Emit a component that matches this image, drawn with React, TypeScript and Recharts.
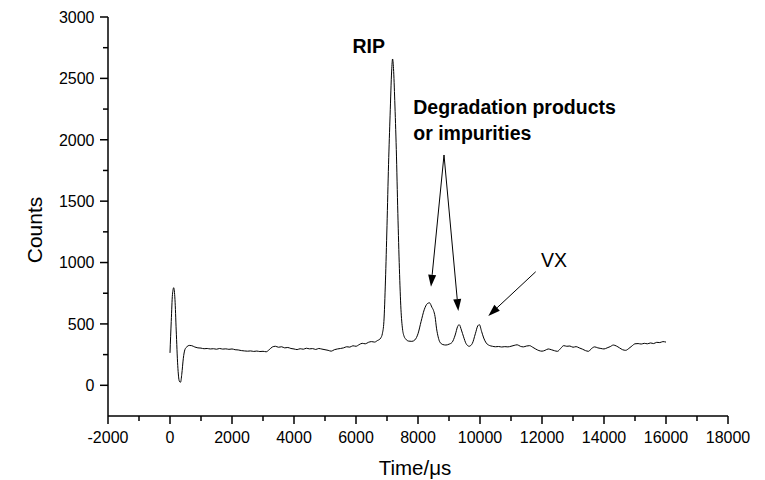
import { LineChart, Line, XAxis, YAxis, ReferenceLine, ReferenceDot, Label } from "recharts";

// drift time (µs) and detector counts
const timeUs = [
  0, 40, 80, 120, 160, 200, 250, 300, 340, 380, 430, 480, 550, 620, 700, 800, 900, 1000,
  1100, 1200, 1300, 1400, 1500, 1600, 1700, 1800, 1900, 2000, 2100, 2200, 2300, 2400, 2500,
  2600, 2700, 2800, 2900, 3000, 3100, 3200, 3300, 3400, 3500, 3600, 3700, 3800, 3900, 4000,
  4100, 4200, 4300, 4400, 4500, 4600, 4700, 4800, 4900, 5000, 5100, 5200, 5300, 5400, 5500,
  5600, 5700, 5800, 5900, 6000, 6100, 6200, 6300, 6400, 6500, 6600, 6700, 6750, 6800, 6850,
  6900, 6950, 7000, 7050, 7100, 7150, 7180, 7210, 7250, 7300, 7350, 7400, 7450, 7500, 7550,
  7600, 7700, 7800, 7900, 8000, 8100, 8200, 8300, 8370, 8450, 8500, 8550, 8600, 8650, 8700,
  8800, 8900, 9000, 9100, 9200, 9280, 9330, 9400, 9470, 9550, 9650, 9750, 9850, 9930, 9980,
  10050, 10120, 10200, 10300, 10400, 10500, 10600, 10700, 10800, 10900, 11000, 11100, 11200,
  11300, 11400, 11500, 11600, 11700, 11800, 11900, 12000, 12100, 12200, 12300, 12400, 12500,
  12600, 12700, 12800, 12900, 13000, 13100, 13200, 13300, 13400, 13500, 13600, 13700, 13800,
  13900, 14000, 14100, 14200, 14300, 14400, 14500, 14600, 14700, 14800, 14900, 15000, 15100,
  15200, 15300, 15400, 15500, 15600, 15700, 15800, 15900, 16000,
];
const counts = [
  264, 520, 740, 795, 700, 450, 160, 35, 25, 90, 220, 290, 315, 325, 323, 312, 305, 303,
  298, 300, 296, 298, 294, 300, 295, 297, 293, 296, 290, 288, 283, 280, 278,
  280, 276, 279, 275, 277, 273, 290, 312, 318, 310, 314, 305, 308, 300, 296,
  291, 298, 294, 302, 297, 299, 292, 300, 295, 290, 285, 278, 290, 296, 300,
  305, 314, 311, 322, 318, 331, 342, 338, 350, 356, 352, 366, 372, 386, 420,
  520, 850, 1300, 1800, 2200, 2560, 2658, 2580, 2320, 1920, 1400, 950, 620, 460, 400,
  378, 360, 358, 370, 420, 520, 615, 665, 672, 635, 610, 560, 460, 395, 355,
  332, 328, 335, 350, 410, 480, 494, 450, 395, 340, 318, 340, 420, 485, 494,
  440, 385, 345, 325, 318, 314, 316, 312, 315, 313, 318, 325, 330,
  318, 313, 320, 323, 310, 295, 283, 278, 285, 296, 290, 282, 277,
  300, 323, 318, 320, 310, 315, 305, 295, 283, 277, 300, 313, 305,
  300, 296, 305, 315, 328, 320, 305, 290, 285, 300, 320, 338, 340,
  336, 342, 338, 345, 340, 350, 348, 356, 352,
];

const xTicks = [
  -2000, -1000, 0, 1000, 2000, 3000, 4000, 5000, 6000, 7000, 8000, 9000, 10000, 11000, 12000,
  13000, 14000, 15000, 16000, 17000, 18000,
];
const yTicks = [0, 250, 500, 750, 1000, 1250, 1500, 1750, 2000, 2250, 2500, 2750, 3000];

// annotation anchors in data units
const ripLabel = { x: 5887, y: 2704 };
const degLabel = { x: 7848, y: 2210 };
const vxLabel = { x: 11968, y: 966 };
const degApex = { x: 8839, y: 1876 };
const degTips = [
  { x: 8419, y: 803 },
  { x: 9300, y: 605 },
];
const vxArrow = [
  { x: 11797, y: 925 },
  { x: 10268, y: 565 },
];

const rows = timeUs.map((t, i) => ({ t, c: counts[i] }));

const FONT = '"Liberation Sans", Arial, sans-serif';

function XTick(props: any) {
  const { x, y, payload } = props;
  const major = payload.value % 2000 === 0;
  return (
    <g>
      <line x1={x} y1={y} x2={x} y2={y + (major ? 8 : 5)} stroke="#000" strokeWidth={1.5} />
      {major && (
        <text x={x} y={y + 27} textAnchor="middle" fontSize={16} fontFamily={FONT} fill="#000">
          {payload.value}
        </text>
      )}
    </g>
  );
}

function YTick(props: any) {
  const { x, y, payload } = props;
  const major = payload.value % 500 === 0;
  return (
    <g>
      <line x1={x} y1={y} x2={x - (major ? 8 : 5)} y2={y} stroke="#000" strokeWidth={1.5} />
      {major && (
        <text x={x - 13.5} y={y} dy="0.36em" textAnchor="end" fontSize={16} fontFamily={FONT} fill="#000">
          {payload.value}
        </text>
      )}
    </g>
  );
}

function Arrow(p: any) {
  const { x1, y1, x2, y2 } = p;
  const dx = x2 - x1;
  const dy = y2 - y1;
  const len = Math.hypot(dx, dy) || 1;
  const ux = dx / len;
  const uy = dy / len;
  const hl = 12;
  const hw = 4;
  const bx = x2 - ux * hl;
  const by = y2 - uy * hl;
  const pts = `${x2},${y2} ${bx - uy * hw},${by + ux * hw} ${bx + uy * hw},${by - ux * hw}`;
  return (
    <g>
      <line x1={x1} y1={y1} x2={bx} y2={by} stroke="#000" strokeWidth={1} />
      <polygon points={pts} fill="#000" />
    </g>
  );
}

export default function App() {
  return (
    <div style={{ position: "absolute", left: 0, top: 0, background: "#fff" }}>
      <LineChart
        width={765}
        height={480}
        data={rows}
        margin={{ top: 17, right: 37, bottom: 24, left: 48 }}
      >
        <XAxis
          type="number"
          dataKey="t"
          domain={[-2000, 18000]}
          ticks={xTicks}
          interval={0}
          tickSize={0}
          tickMargin={0}
          tickLine={false}
          tick={<XTick />}
          axisLine={{ stroke: "#000", strokeWidth: 1.5 }}
          height={40}
        >
          <Label
            content={({ viewBox }: any) => (
              <text
                x={viewBox.x + viewBox.width / 2 - 3}
                y={viewBox.y + 59}
                textAnchor="middle"
                fontSize={20.5}
                fontFamily={FONT}
                fill="#000"
              >
                Time/μs
              </text>
            )}
          />
        </XAxis>
        <YAxis
          type="number"
          domain={[-250, 3000]}
          ticks={yTicks}
          interval={0}
          tickSize={0}
          tickMargin={0}
          tickLine={false}
          tick={<YTick />}
          axisLine={{ stroke: "#000", strokeWidth: 1.5 }}
          width={60}
        >
          <Label
            content={({ viewBox }: any) => {
              const lx = viewBox.x - 6.3;
              const ly = viewBox.y + 213;
              return (
                <text
                  x={lx}
                  y={ly}
                  transform={`rotate(-90 ${lx} ${ly})`}
                  textAnchor="middle"
                  fontSize={21}
                  fontFamily={FONT}
                  fill="#000"
                >
                  Counts
                </text>
              );
            }}
          />
        </YAxis>
        <Line
          dataKey="c"
          type="monotone"
          stroke="#000"
          strokeWidth={1}
          dot={false}
          isAnimationActive={false}
        />
        {degTips.map((tip, i) => (
          <ReferenceLine
            key={i}
            segment={[degApex, tip]}
            ifOverflow="visible"
            shape={<Arrow />}
          />
        ))}
        <ReferenceLine segment={vxArrow} ifOverflow="visible" shape={<Arrow />} />
        <ReferenceDot
          x={ripLabel.x}
          y={ripLabel.y}
          r={0}
          ifOverflow="visible"
          shape={(p: any) => (
            <text x={p.cx} y={p.cy} fontSize={19.5} fontWeight="bold" fontFamily={FONT} fill="#000">
              RIP
            </text>
          )}
        />
        <ReferenceDot
          x={degLabel.x}
          y={degLabel.y}
          r={0}
          ifOverflow="visible"
          shape={(p: any) => (
            <text x={p.cx} y={p.cy} fontSize={19.5} fontWeight="bold" fontFamily={FONT} fill="#000">
              <tspan x={p.cx}>Degradation products</tspan>
              <tspan x={p.cx} dy={26}>or impurities</tspan>
            </text>
          )}
        />
        <ReferenceDot
          x={vxLabel.x}
          y={vxLabel.y}
          r={0}
          ifOverflow="visible"
          shape={(p: any) => (
            <text x={p.cx} y={p.cy} fontSize={19.5} fontFamily={FONT} fill="#000">
              VX
            </text>
          )}
        />
      </LineChart>
    </div>
  );
}
